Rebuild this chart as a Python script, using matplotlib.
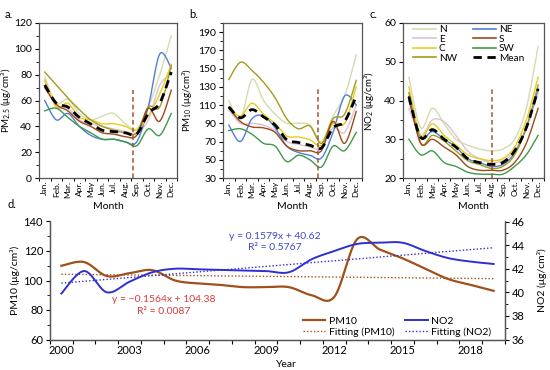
import numpy as np
import matplotlib
matplotlib.use("Agg")
import matplotlib.pyplot as plt
from matplotlib.ticker import MultipleLocator, FixedLocator
from matplotlib.lines import Line2D

plt.rcParams['font.family'] = ['Lato', 'DejaVu Sans']
plt.rcParams['mathtext.fontset'] = 'custom'
plt.rcParams['mathtext.rm'] = 'Lato'
plt.rcParams['mathtext.it'] = 'Lato:italic'
plt.rcParams['axes.linewidth'] = 0.9

# ---------------- data ----------------
months = ["Jan.", "Feb.", "Mar.", "Apr.", "May", "Jun.", "Jul.", "Aug.", "Sep.", "Oct.", "Nov.", "Dec."]
regions = ["N", "E", "C", "NW", "NE", "S", "SW", "Mean"]

pm25 = {
    "N":    [78, 58, 61, 50, 45, 48, 50, 42, 38, 55, 80, 110],
    "NE":   [60, 45, 50, 40, 33, 30, 30, 28, 28, 55, 96, 85],
    "E":    [75, 55, 54, 45, 42, 40, 38, 36, 35, 45, 72, 80],
    "S":    [70, 57, 52, 44, 40, 35, 34, 32, 33, 54, 44, 68],
    "C":    [76, 55, 58, 47, 45, 42, 42, 40, 37, 48, 65, 88],
    "SW":   [52, 54, 47, 40, 35, 30, 30, 28, 25, 38, 33, 50],
    "NW":   [82, 72, 62, 53, 45, 40, 37, 35, 35, 55, 55, 87],
    "Mean": [72, 58, 55, 47, 42, 37, 36, 35, 34, 50, 58, 82],
}
pm10 = {
    "N":    [115, 95, 138, 115, 100, 90, 90, 88, 70, 98, 120, 165],
    "NE":   [88, 70, 95, 98, 85, 65, 58, 55, 52, 80, 120, 110],
    "E":    [105, 90, 90, 88, 82, 70, 67, 64, 63, 85, 80, 110],
    "S":    [107, 92, 86, 85, 80, 65, 60, 60, 60, 92, 68, 103],
    "C":    [108, 98, 112, 100, 90, 76, 75, 72, 66, 90, 90, 130],
    "SW":   [82, 84, 78, 68, 65, 48, 55, 50, 42, 65, 60, 80],
    "NW":   [138, 157, 148, 135, 118, 95, 84, 87, 68, 95, 100, 137],
    "Mean": [108, 96, 105, 97, 88, 72, 69, 66, 63, 85, 92, 120],
}
no2 = {
    "N":    [46, 33, 38, 34, 30, 28.5, 27.5, 27, 27.5, 30, 38, 54],
    "E":    [38, 31, 35, 34.5, 31, 27, 25, 24, 24.5, 27, 33, 42],
    "C":    [43.5, 31, 34, 31, 28.5, 26, 25, 24.5, 25, 28, 35, 46],
    "NW":   [42, 29, 31, 29.5, 27, 24.5, 23.5, 22.5, 23, 26, 33, 44],
    "NE":   [40, 30.5, 32, 30, 28, 25, 24, 23, 23.5, 26.5, 33, 43],
    "S":    [41, 29, 30, 28, 26, 23, 22, 22, 22, 24, 29, 38],
    "SW":   [30, 26, 27, 24, 23, 21.5, 21, 21, 21, 23, 26, 31],
    "Mean": [41, 30.5, 32.5, 30, 28, 25, 24, 23.5, 24, 27, 33, 43],
}

years = list(range(2000, 2020))
pm10_annual = [110, 112.5, 103, 105, 107, 100, 98, 97, 95.5, 95.5,
               95.5, 90, 89, 128, 121, 115, 108, 101, 97, 93]
no2_annual = [39.9, 41.8, 40.0, 40.9, 41.7, 42.0, 41.95, 41.9, 41.85, 41.8,
              41.7, 42.8, 43.5, 44.1, 44.2, 44.2, 43.5, 42.9, 42.6, 42.4]
fit_pm10 = (-0.1564, 104.38, 0.0087)
fit_no2 = (0.1579, 40.62, 0.5767)

colors = {
    "N": "#D3DCAE", "NE": "#4F7FD6", "E": "#DCC2D2", "S": "#9C4A18",
    "C": "#E8CC1C", "SW": "#3E9A48", "NW": "#A39A1E", "Mean": "black",
}
pm_color = "#A0501A"
no_color = "#2F2FD0"


def smooth(x, y, n=24):
    """Excel-like smoothed line (Catmull-Rom through the data points)."""
    x = np.asarray(x, float)
    y = np.asarray(y, float)
    px = np.concatenate([[x[0]], x, [x[-1]]])
    py = np.concatenate([[y[0]], y, [y[-1]]])
    xs, ys = [], []
    t = np.linspace(0, 1, n, endpoint=False)
    for i in range(1, len(px) - 2):
        for p, out in ((px, xs), (py, ys)):
            p0, p1, p2, p3 = p[i - 1], p[i], p[i + 1], p[i + 2]
            m1 = (p2 - p0) / 2.0
            m2 = (p3 - p1) / 2.0
            h00 = 2 * t**3 - 3 * t**2 + 1
            h10 = t**3 - 2 * t**2 + t
            h01 = -2 * t**3 + 3 * t**2
            h11 = t**3 - t**2
            out.extend(h00 * p1 + h10 * m1 + h01 * p2 + h11 * m2)
    xs.append(x[-1])
    ys.append(y[-1])
    return np.array(xs), np.array(ys)


fig = plt.figure(figsize=(5.5, 3.7), dpi=100)

W, H = 550.0, 370.0
def rect(l, r, t, b):
    return [l / W, 1 - b / H, (r - l) / W, (b - t) / H]

panels = [
    (rect(39, 177, 23, 178), pm25, (0, 120), 20, 10, r'PM$_{2.5}$ (μg/cm³)', 7.7, 68, "a.", -0.19),
    (rect(223, 362, 23, 178), pm10, (30, 200), 20, 10, r'PM$_{10}$ (μg/cm³)', 7.7, 128, "b.", -0.21),
    (rect(403, 544, 23, 178), no2, (20, 60), 10, 5, r'NO$_{2}$ (μg/cm³)', 7.1, 43, "c.", -0.195),
]

idx = np.arange(12)
for k, (r, data, ylim, maj, mnr, ylab, vx, vtop, tag, lx) in enumerate(panels):
    ax = fig.add_axes(r)
    order = ["N", "E", "C", "NW", "NE", "S", "SW", "Mean"]
    draw_order = ["N", "E", "NE", "C", "NW", "S", "SW", "Mean"]
    for name in draw_order:
        xs, ys = smooth(idx, data[name])
        if name == "Mean":
            ax.plot(xs, ys, color="black", lw=2.0, ls=(0, (3, 2)), zorder=5)
        else:
            ax.plot(xs, ys, color=colors[name], lw=1.0, zorder=3)
    ax.plot([vx, vx], [ylim[0], vtop], color="#A0522D", lw=1.1, ls=(0, (3, 2)), zorder=6)
    ax.set_xlim(-0.5, 11.5)
    ax.set_ylim(*ylim)
    ax.yaxis.set_major_locator(MultipleLocator(maj))
    if k == 1:
        ax.yaxis.set_major_locator(FixedLocator(np.arange(30, 191, 20)))
    ax.yaxis.set_minor_locator(MultipleLocator(mnr))
    ax.xaxis.set_major_locator(FixedLocator(idx))
    ax.set_xticklabels(months, rotation=90, fontsize=6)
    ax.xaxis.set_minor_locator(FixedLocator(np.arange(-0.5, 12, 1)))
    ax.tick_params(axis='x', which='major', length=0, pad=2)
    ax.tick_params(axis='x', which='minor', length=2.5, width=0.7)
    ax.tick_params(axis='y', which='major', length=3, width=0.8, labelsize=7.5, pad=2)
    ax.tick_params(axis='y', which='minor', length=2, width=0.6)
    for s in ax.spines.values():
        s.set_color("#555555")
    ax.set_ylabel(ylab, fontsize=7.0)
    ax.yaxis.set_label_coords(lx, 0.5)
    ax.set_xlabel("Month", fontsize=7.5, labelpad=3)
    fig.text(r[0] - 34 / W, 0.975, tag, fontsize=8, va="top", ha="left")
    if k == 2:
        handles = [Line2D([], [], color=colors[n], lw=1.2) if n != "Mean"
                   else Line2D([], [], color="black", lw=2.0, ls=(0, (3, 2)))
                   for n in order]
        ax.legend(handles, order, ncol=2, loc="upper left", bbox_to_anchor=(0.02, 1.03),
                  frameon=False, fontsize=7.2, handlelength=2.3, handletextpad=0.3,
                  labelspacing=0.05, columnspacing=1.6, borderpad=0.2)

# ---------------- panel d ----------------
axd = fig.add_axes(rect(50, 505, 221.5, 339.5))
axr = axd.twinx()
yr = np.array(years, float)
xs, ys = smooth(yr, pm10_annual)
l1, = axd.plot(xs, ys, color=pm_color, lw=1.6, zorder=4)
xs, ys = smooth(yr, no2_annual)
l2, = axr.plot(xs, ys, color=no_color, lw=1.4, zorder=4)
xi = yr - 1999
l3, = axd.plot(yr, fit_pm10[0] * xi + fit_pm10[1], color=pm_color, lw=1.0, ls=(0, (1, 1.5)))
l4, = axr.plot(yr, fit_no2[0] * xi + fit_no2[1], color=no_color, lw=1.0, ls=(0, (1, 1.5)))

axd.set_xlim(1999.5, 2019.5)
axd.set_ylim(60, 140)
axr.set_ylim(36, 46)
axd.yaxis.set_major_locator(MultipleLocator(20))
axd.yaxis.set_minor_locator(MultipleLocator(10))
axr.yaxis.set_major_locator(MultipleLocator(2))
axr.yaxis.set_minor_locator(MultipleLocator(1))
axd.xaxis.set_major_locator(FixedLocator(np.arange(2000, 2020, 3)))
axd.xaxis.set_minor_locator(FixedLocator(np.arange(1999.5, 2020, 1)))
axd.tick_params(axis='x', which='major', length=0, labelsize=8, pad=4)
axd.tick_params(axis='x', which='minor', length=3, width=0.8)
axd.tick_params(axis='y', which='major', length=3, width=0.8, labelsize=8, pad=2)
axd.tick_params(axis='y', which='minor', length=2, width=0.6)
axr.tick_params(axis='y', which='major', length=3, width=0.8, labelsize=8, pad=2)
axr.tick_params(axis='y', which='minor', length=2, width=0.6)
axd.spines['top'].set_visible(False)
axr.spines['top'].set_visible(False)
for s in list(axd.spines.values()) + list(axr.spines.values()):
    s.set_color("#555555")
axd.set_ylabel("PM10 (μg/cm³)", fontsize=7.5)
axd.yaxis.set_label_coords(-0.066, 0.5)
axr.set_ylabel("NO2 (μg/cm³)", fontsize=7.5)
axr.yaxis.set_label_coords(1.07, 0.5)
axd.set_xlabel("Year", fontsize=7.5, labelpad=0)
axd.xaxis.set_label_coords(0.52, -0.17)

axd.text(2009.4, 130, f"y = {fit_no2[0]}x + {fit_no2[1]}", color="#3F48CC",
         fontsize=7.5, ha="center", va="center")
axd.text(2009.4, 122.5, f"R² = {fit_no2[2]}", color="#3F48CC",
         fontsize=7.5, ha="center", va="center")
axd.text(2004.5, 87, f"y = \u2212{abs(fit_pm10[0])}x + {fit_pm10[1]}", color="#D83A3A",
         fontsize=7.5, ha="center", va="center")
axd.text(2004.5, 79, f"R² = {fit_pm10[2]:.4f}", color="#D83A3A",
         fontsize=7.5, ha="center", va="center")

axd.legend([l1, l3, l2, l4], ["PM10", "Fitting (PM10)", "NO2", "Fitting (NO2)"],
           ncol=2, loc="lower left", bbox_to_anchor=(0.555, 0.02), frameon=False,
           fontsize=7.5, handlelength=2.2, handletextpad=0.3, labelspacing=0.2,
           columnspacing=1.0, borderpad=0.0, borderaxespad=0.0)
fig.text(8 / W, 1 - 205 / H, "d.", fontsize=8, va="center", ha="left")

fig.savefig("out.png", dpi=100)
